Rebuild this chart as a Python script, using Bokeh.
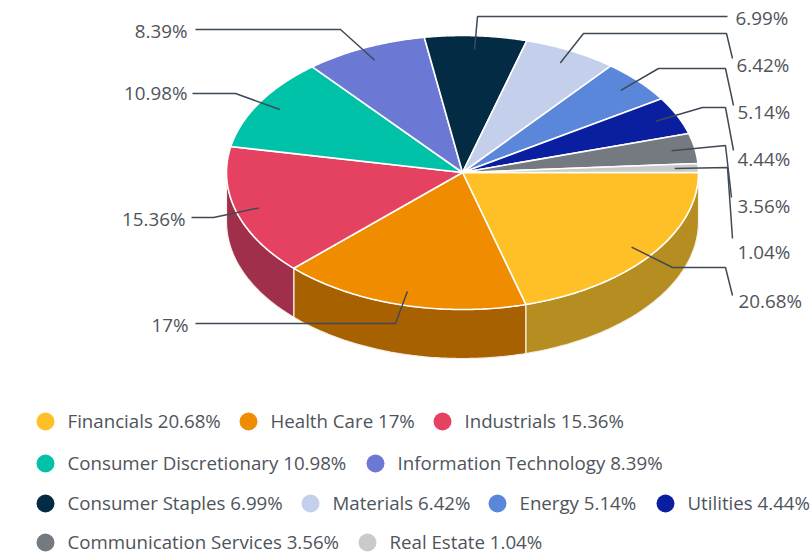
import numpy as np
from bokeh.plotting import figure
from bokeh.models import Range1d
from bokeh.core.properties import value
from bokeh.embed import file_html
from bokeh.resources import INLINE

categories = ["Financials", "Health Care", "Industrials", "Consumer Discretionary",
              "Information Technology", "Consumer Staples", "Materials", "Energy",
              "Utilities", "Communication Services", "Real Estate"]
shares = [20.68, 17, 15.36, 10.98, 8.39, 6.99, 6.42, 5.14, 4.44, 3.56, 1.04]
colors = ["#FFC027", "#F08C00", "#E54160", "#00C2A8", "#6B78D4", "#032B43",
          "#C3CFEB", "#5B87DB", "#0A1FA0", "#757A80", "#C8CBC9"]
side_colors = ["#B58D20", "#A86100", "#A02F4C"]

CX, CY, RX, RY, DEPTH = 462, 172, 236, 137, 49
TEXT = "#4E545C"
LINE = "#3F4A54"

# leader-line elbows and label anchors per slice (page pixels)
elbows = [
    [(672, 267), (725, 267), (732, 295)],
    [(395, 323), (195, 323)],
    [(213, 217), (191, 217)],
    [(235, 93), (192, 93)],
    [(340, 29), (195, 29)],
    [(477, 16), (727, 16)],
    [(583, 33), (726, 33), (732, 58)],
    [(658, 68), (725, 68), (733, 105)],
    [(702, 107), (725, 107), (733, 150)],
    [(725, 145), (731, 197)],
    [(727, 167), (732, 238)],
]
label_pos = [(738, 300, "left"), (188, 324, "right"), (185, 218, "right"), (187, 92, "right"),
             (187, 30, "right"), (735, 17, "left"), (736, 64, "left"), (737, 111, "left"),
             (737, 158, "left"), (737, 205, "left"), (737, 251, "left")]
legend_rows = [(420, [45, 248, 442]), (462, [45, 375]), (502, [45, 310, 497, 665]), (541, [45, 367])]
legend_order = [[0, 1, 2], [3, 4], [5, 6, 7, 8], [9, 10]]

p = figure(width=810, height=554, output_backend="svg", toolbar_location=None,
           x_range=Range1d(0, 810), y_range=Range1d(554, 0), min_border=0)
p.axis.visible = False
p.grid.visible = False
p.outline_line_color = None
p.background_fill_color = "white"

edges = np.cumsum([0] + shares) / sum(shares) * 2 * np.pi


def rim(a, b, n=80):
    t = np.linspace(a, b, n)
    return CX + RX * np.cos(t), CY + RY * np.sin(t)


# extruded wall of the slices facing the viewer
for i, col in enumerate(side_colors):
    a, b = edges[i], min(edges[i + 1], np.pi)
    x, y = rim(a, b)
    p.patch(np.r_[x, x[::-1]], np.r_[y, y[::-1] + DEPTH],
            fill_color=col, line_color="#F4EFE6", line_width=1.2)

# top face
xs, ys = [], []
for a, b in zip(edges[:-1], edges[1:]):
    x, y = rim(a, b)
    xs.append(np.r_[CX, x, CX])
    ys.append(np.r_[CY, y, CY])
p.patches(xs, ys, fill_color=colors, line_color="white", line_width=1.6)

# leader lines from each slice's mid-angle
mids = (edges[:-1] + edges[1:]) / 2
for m, el in zip(mids, elbows):
    ax, ay = CX + 0.9 * RX * np.cos(m), CY + 0.9 * RY * np.sin(m)
    p.line([ax] + [e[0] for e in el], [ay] + [e[1] for e in el],
           line_color=LINE, line_width=1.5)

# value labels
for v, (x, y, align) in zip(shares, label_pos):
    p.text([x], [y], text=[f"{v}%"], text_font=value("Open Sans"), text_font_size="18.8px",
           text_color=TEXT, text_align=align, text_baseline="middle")

# legend
for (y, marks), idx in zip(legend_rows, legend_order):
    for x, i in zip(marks, idx):
        p.scatter([x], [y + 1], size=18, marker="circle", fill_color=colors[i], line_color=None)
        p.text([x + 22], [y], text=[f"{categories[i]} {shares[i]}%"], text_font=value("Open Sans"),
               text_font_size="18.7px", text_color=TEXT, text_align="left", text_baseline="middle")

open("out.html", "w").write(file_html(p, INLINE))
